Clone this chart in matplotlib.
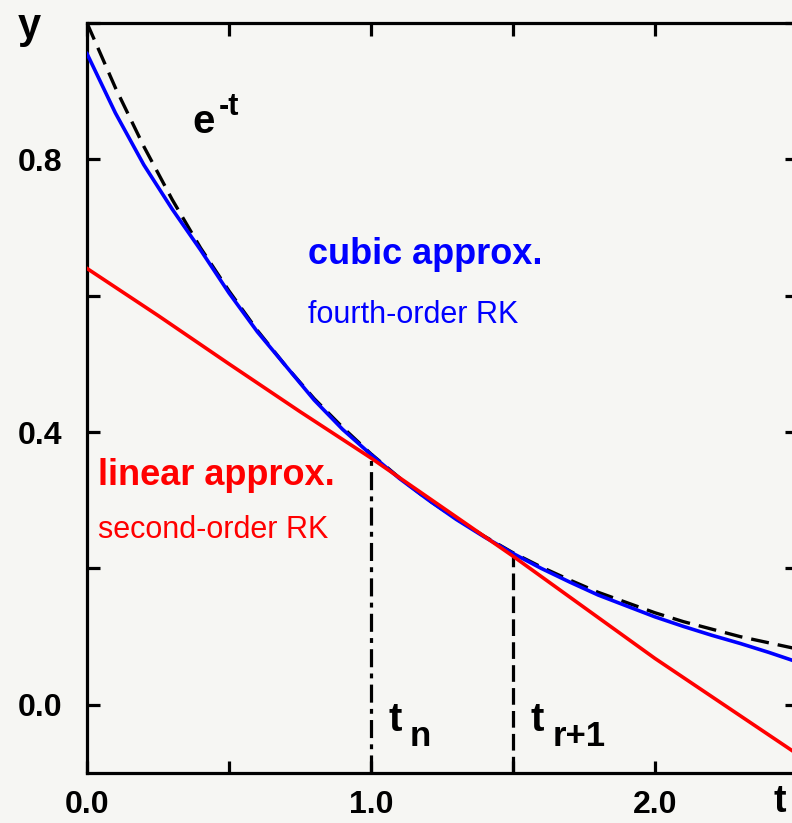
import matplotlib
matplotlib.use("Agg")
import matplotlib.pyplot as plt
from matplotlib.ticker import FixedLocator, FuncFormatter

plt.rcParams['font.family'] = ['Liberation Sans', 'DejaVu Sans']
plt.rcParams['lines.scale_dashes'] = False

# ---- data ----
t_grid = [0.0, 0.1, 0.2, 0.3, 0.4, 0.5, 0.6, 0.7, 0.8, 0.9, 1.0, 1.1, 1.2,
          1.3, 1.4, 1.5, 1.6, 1.7, 1.8, 1.9, 2.0, 2.1, 2.2, 2.3, 2.4, 2.5]
exact_y = [1.000, 0.905, 0.819, 0.741, 0.670, 0.607, 0.549, 0.497, 0.449,
           0.407, 0.368, 0.333, 0.301, 0.273, 0.247, 0.223, 0.202, 0.183,
           0.165, 0.150, 0.135, 0.122, 0.111, 0.100, 0.091, 0.082]
cubic_y = [0.955, 0.868, 0.792, 0.727, 0.667, 0.604, 0.547, 0.497, 0.447,
           0.404, 0.367, 0.332, 0.301, 0.272, 0.246, 0.222, 0.200, 0.180,
           0.161, 0.145, 0.129, 0.115, 0.102, 0.090, 0.077, 0.063]
linear_t = [0.0, 0.25, 0.5, 0.75, 1.0, 1.25, 1.5, 1.75, 2.0, 2.25, 2.5]
linear_y = [0.640, 0.571, 0.500, 0.430, 0.362, 0.290, 0.218, 0.143, 0.068,
            -0.002, -0.072]
t_n, y_n = 1.0, 0.370
t_n1, y_n1 = 1.5, 0.222

x_ticks = [0.0, 0.5, 1.0, 1.5, 2.0, 2.5]
x_labels = {0.0: "0.0", 1.0: "1.0", 2.0: "2.0"}
y_ticks = [0.0, 0.2, 0.4, 0.6, 0.8, 1.0]
y_labels = {0.0: "0.0", 0.4: "0.4", 0.8: "0.8"}

W, H = 792, 823
fig = plt.figure(figsize=(W / 100, H / 100), dpi=100, facecolor='#f6f6f3')
ax = fig.add_axes([87 / W, 50 / H, 710 / W, 750 / H])
ax.set_facecolor('#f6f6f3')
ax.set_xlim(0, 2.5)
ax.set_ylim(-0.1, 1.0)

for s in ax.spines.values():
    s.set_linewidth(2.3)

ax.plot(t_grid, exact_y, color='black', lw=2.4, dashes=(13, 6.5), zorder=3)
ax.plot(t_grid, cubic_y, color='#0000ff', lw=2.6, zorder=4)
ax.plot(linear_t, linear_y, color='#ff0000', lw=2.6, zorder=4)

ax.plot([t_n, t_n], [-0.1, y_n], color='black', lw=2.3,
        dashes=(13, 4.5, 3.5, 4.5), zorder=2)
ax.plot([t_n1, t_n1], [-0.1, y_n1], color='black', lw=2.3,
        dashes=(12, 4.5), zorder=2)

ax.xaxis.set_major_locator(FixedLocator(x_ticks))
ax.yaxis.set_major_locator(FixedLocator(y_ticks))
ax.xaxis.set_major_formatter(FuncFormatter(lambda v, p: x_labels.get(round(v, 2), "")))
ax.yaxis.set_major_formatter(FuncFormatter(lambda v, p: y_labels.get(round(v, 2), "")))
ax.tick_params(direction='in', length=9, width=2.3, top=True, right=True,
               labelsize=23)
ax.tick_params(axis='x', pad=12)
ax.tick_params(axis='y', pad=18)
for lab in ax.get_xticklabels() + ax.get_yticklabels():
    lab.set_fontweight('bold')

# annotations
ax.text(0.778, 0.646, "cubic approx.", color='#0000ff', fontsize=26,
        fontweight='bold', va='baseline', ha='left')
ax.text(0.778, 0.560, "fourth-order RK", color='#0000ff', fontsize=22,
        va='baseline', ha='left')
ax.text(0.039, 0.322, "linear approx.", color='#ff0000', fontsize=26,
        fontweight='bold', va='baseline', ha='left')
ax.text(0.039, 0.244, "second-order RK", color='#ff0000', fontsize=22,
        va='baseline', ha='left')
ax.text(0.370, 0.839, "e", color='black', fontsize=29, fontweight='bold',
        va='baseline', ha='left')
ax.text(0.465, 0.865, "-t", color='black', fontsize=22, fontweight='bold',
        va='baseline', ha='left')
ax.text(1.060, -0.039, "t", color='black', fontsize=29, fontweight='bold',
        va='baseline', ha='left')
ax.text(1.137, -0.061, "n", color='black', fontsize=25, fontweight='bold',
        va='baseline', ha='left')
ax.text(1.560, -0.039, "t", color='black', fontsize=29, fontweight='bold',
        va='baseline', ha='left')
ax.text(1.641, -0.061, "r+1", color='black', fontsize=25, fontweight='bold',
        va='baseline', ha='left')

fig.text(18 / W, 1 - 38 / H, "y", fontsize=30, fontweight='bold',
         ha='left', va='baseline')
fig.text(774 / W, 1 - 812 / H, "t", fontsize=27, fontweight='bold',
         ha='left', va='baseline')

fig.savefig("out.png", dpi=100, facecolor=fig.get_facecolor())
